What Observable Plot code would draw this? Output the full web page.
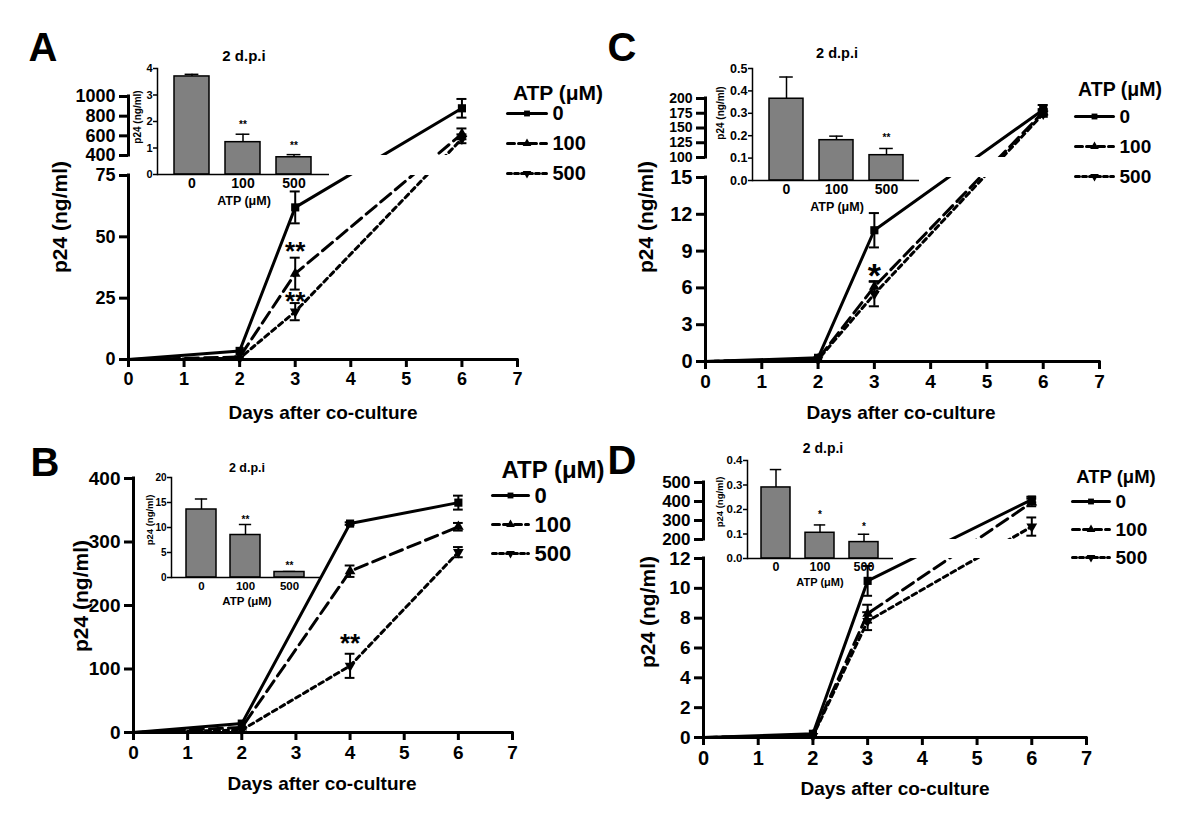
<!DOCTYPE html>
<html><head><meta charset="utf-8">
<script src="https://cdn.jsdelivr.net/npm/d3@7"></script>
<script src="https://cdn.jsdelivr.net/npm/@observablehq/plot@0.6"></script>
<style>
body{margin:0;background:#fff;}
#fig{position:relative;width:1200px;height:819px;overflow:hidden;background:#fff;font-family:'Liberation Sans',Arial,Helvetica,sans-serif;}
#fig svg{position:absolute;left:0;top:0;}
.t{position:absolute;white-space:nowrap;line-height:1;font-weight:bold;color:#000;}
</style></head><body><div id="fig"></div>
<script>
// ---------------- data ----------------
const doses = ["0", "100", "500"];
const xTicks = [0, 1, 2, 3, 4, 5, 6, 7];

// Panel A
const daysA = [0, 2, 3, 6];
const A_0 = [0, 3.5, 62, 880];      const A_0_err = [0, 0, 6.5, 95];
const A_100 = [0, 1.0, 35, 620];    const A_100_err = [0, 0, 6.5, 55];
const A_500 = [0, 0.5, 19.5, 570];  const A_500_err = [0, 0, 3.5, 45];
const A_yDomain = [0, 75, 400, 1000];
const A_yTicksLow = [0, 25, 50, 75];
const A_yTicksHigh = [400, 600, 800, 1000];
const A_stars = [{day: 3, y: 46.5, t: "**"}, {day: 3, y: 26, t: "**"}];
const A_inset = [3.7, 1.22, 0.65];  const A_inset_err = [0.08, 0.30, 0.10];
const A_inset_starY = [null, 1.96, 1.17]; const A_inset_star = ["", "**", "**"];
const A_inset_ticks = [0, 1, 2, 3, 4];

// Panel B
const daysB = [0, 2, 4, 6];
const B_0 = [0, 14, 329, 362];      const B_0_err = [0, 0, 2, 11];
const B_100 = [0, 8, 254, 324];     const B_100_err = [0, 0, 9, 6];
const B_500 = [0, 4, 105, 284];     const B_500_err = [0, 0, 19, 8];
const B_yDomain = [0, 400];
const B_yTicks = [0, 100, 200, 300, 400];
const B_stars = [{day: 4, y: 150, t: "**"}];
const B_inset = [13.6, 8.5, 1.1];   const B_inset_err = [2.1, 2.1, 0.1];
const B_inset_starY = [null, 12, 2.8]; const B_inset_star = ["", "**", "**"];
const B_inset_ticks = [0, 5, 10, 15, 20];

// Panel C
const daysC = [0, 2, 3, 6];
const C_0 = [0, 0.3, 10.7, 181];    const C_0_err = [0, 0, 1.4, 8];
const C_100 = [0, 0.2, 6.1, 177];   const C_100_err = [0, 0, 0.45, 5];
const C_500 = [0, 0.15, 5.5, 174];  const C_500_err = [0, 0, 1.0, 5];
const C_yDomain = [0, 15, 100, 200];
const C_yTicksLow = [0, 3, 6, 9, 12, 15];
const C_yTicksHigh = [100, 125, 150, 175, 200];
const C_stars = [{day: 3, y: 7.6, t: "*"}];
const C_inset = [0.365, 0.18, 0.113]; const C_inset_err = [0.097, 0.018, 0.03];
const C_inset_starY = [null, null, 0.2]; const C_inset_star = ["", "", "**"];
const C_inset_ticks = [0, 0.1, 0.2, 0.3, 0.4, 0.5];

// Panel D
const daysD = [0, 2, 3, 6];
const D_0 = [0, 0.25, 10.5, 410];   const D_0_err = [0, 0, 1.0, 15];
const D_100 = [0, 0.15, 8.3, 395];  const D_100_err = [0, 0, 0.6, 20];
const D_500 = [0, 0.1, 7.8, 268];   const D_500_err = [0, 0, 0.6, 48];
const D_yDomain = [0, 12, 200, 500];
const D_yTicksLow = [0, 2, 4, 6, 8, 10, 12];
const D_yTicksHigh = [200, 300, 400, 500];
const D_stars = [];
const D_inset = [0.29, 0.105, 0.067]; const D_inset_err = [0.073, 0.032, 0.032];
const D_inset_starY = [null, 0.19, 0.14]; const D_inset_star = ["", "*", "*"];
const D_inset_ticks = [0, 0.1, 0.2, 0.3, 0.4];

// ---------------- drawing ----------------
const FONT = "'Liberation Sans', Arial, Helvetica, sans-serif";
const STYLE = {fontFamily: FONT, background: "transparent", overflow: "visible"};
const fig = document.getElementById("fig");
const W = 1200, H = 819;
const dash = {"0": undefined, "100": "13,6", "500": "5,4"};
const legendDash = {"0": undefined, "100": "7,4", "500": "4,3"};
const S3 = Math.sqrt(3);
const triDown = {draw(ctx, size) {
  const y = -Math.sqrt(size / (S3 * 3));
  ctx.moveTo(0, -y * 2); ctx.lineTo(-S3 * y, y); ctx.lineTo(S3 * y, y); ctx.closePath();
}};
const sym = {"0": "square", "100": "triangle", "500": triDown};
const symR = {"0": 4.6, "100": 4.0, "500": 4.0};
const legR = {"0": 3.3, "100": 3.2, "500": 3.2};

function put(svg) { fig.appendChild(svg); }
function txt(s, x, y, size, opts = {}) {
  const d = document.createElement("div");
  d.className = "t"; d.textContent = s;
  d.style.left = x + "px"; d.style.top = y + "px"; d.style.fontSize = size + "px";
  if (opts.weight) d.style.fontWeight = opts.weight;
  d.style.transform = "translate(-50%,-50%)" + (opts.rot ? " rotate(-90deg)" : "");
  fig.appendChild(d);
}

function mainPanel(p) {
  const marks = [];
  const lo = p.yr[0], top = p.yr[p.yr.length - 1];
  p.series.forEach((vals, k) => {
    const key = doses[k];
    const rows = p.days.map((d, i) => ({day: d, v: vals[i], e: p.errs[k][i]}));
    marks.push(Plot.line(rows, {x: "day", y: "v", stroke: "#000", strokeWidth: 3, strokeDasharray: dash[key]}));
    const eb = rows.filter(r => r.e > 0);
    marks.push(Plot.ruleX(eb, {x: "day", y1: r => r.v - r.e, y2: r => r.v + r.e, strokeWidth: 2}));
    marks.push(Plot.ruleY(eb, {x1: r => r.day - 0.09, x2: r => r.day + 0.09, y: r => r.v + r.e, strokeWidth: 2}));
    marks.push(Plot.ruleY(eb, {x1: r => r.day - 0.09, x2: r => r.day + 0.09, y: r => r.v - r.e, strokeWidth: 2}));
    marks.push(Plot.dot(rows.filter(r => r.day > 0), {x: "day", y: "v", symbol: sym[key], r: symR[key], fill: "#000"}));
  });
  if (p.yd.length === 4) {
    marks.push(Plot.rect([{x1: 0, x2: 7, y1: p.yd[1], y2: p.yd[2]}], {x1: "x1", x2: "x2", y1: "y1", y2: "y2", fill: "#fff"}));
    marks.push(Plot.ruleX([{a: p.yd[0], b: p.yd[1]}, {a: p.yd[2], b: p.yd[3]}], {x: 0, y1: "a", y2: "b", strokeWidth: 3, strokeLinecap: "square"}));
  } else {
    marks.push(Plot.ruleX([{a: p.yd[0], b: p.yd[1]}], {x: 0, y1: "a", y2: "b", strokeWidth: 3, strokeLinecap: "square"}));
  }
  marks.push(Plot.ruleY([0], {strokeWidth: 3, strokeLinecap: "square"}));
  marks.push(Plot.text(p.stars, {x: "day", y: "y", text: "t", fontSize: p.starFs, fontWeight: "bold", dy: 0.245 * p.starFs}));
  marks.push(Plot.axisX({ticks: xTicks, tickSize: 8, tickPadding: 5, strokeWidth: 3, fontSize: p.xfs, fontWeight: "bold", label: null, tickFormat: d => String(d)}));
  p.yTickSets.forEach(([ticks, fs]) => {
    marks.push(Plot.axisY({ticks, tickSize: 9, tickPadding: 4, strokeWidth: 3, fontSize: fs, fontWeight: "bold", label: null, tickFormat: d => String(d)}));
  });
  put(Plot.plot({
    width: W, height: H,
    marginLeft: p.xr[0], marginRight: W - p.xr[1], marginTop: top, marginBottom: H - lo,
    x: {domain: [0, 7]},
    y: {type: "linear", domain: p.yd, range: p.yr},
    style: STYLE, marks
  }));
}

function insetPanel(p) {
  const rows = doses.map((k, i) => ({k, v: p.vals[i], e: p.errs[i], sy: p.starY[i], s: p.star[i]}));
  const bw = (p.xr[1] - p.xr[0]) / (3 - p.pi + 2 * p.po) * (1 - p.pi);
  const capIn = (bw - p.cap) / 2;
  put(Plot.plot({
    width: W, height: H,
    marginLeft: p.xr[0], marginRight: W - p.xr[1], marginTop: p.yr[1], marginBottom: H - p.yr[0],
    x: {type: "band", domain: doses, paddingInner: p.pi, paddingOuter: p.po},
    y: {domain: p.yd},
    style: STYLE,
    marks: [
      Plot.ruleX(rows, {x: "k", y1: "v", y2: r => r.v + r.e, strokeWidth: 1.5}),
      Plot.tickY(rows, {x: "k", y: r => r.v + r.e, strokeWidth: 1.5, insetLeft: capIn, insetRight: capIn}),
      Plot.barY(rows, {x: "k", y: "v", fill: "#808080", stroke: "#000", strokeWidth: 1.5}),
      Plot.text(rows.filter(r => r.s), {x: "k", y: "sy", text: "s", fontSize: 10, fontWeight: "bold", dy: 2.4}),
      Plot.frame({anchor: "left", strokeWidth: 1.5}),
      Plot.ruleY([0], {strokeWidth: 1.5}),
      Plot.axisY({ticks: p.ticks, tickSize: 4, tickPadding: 1, strokeWidth: 1.5, fontSize: p.fs, fontWeight: "bold", label: null, tickFormat: p.fmt}),
      Plot.axisX({tickSize: 0, tickPadding: 4, fontSize: p.xfs, fontWeight: "bold", label: null})
    ]
  }));
}

function legendPanel(p) {
  const marks = [];
  doses.forEach(key => {
    marks.push(Plot.line([{x: 0, k: key}, {x: 1, k: key}], {x: "x", y: "k", stroke: "#000", strokeWidth: 3, strokeDasharray: legendDash[key]}));
    marks.push(Plot.dot([{x: 0.5, k: key}], {x: "x", y: "k", symbol: sym[key], r: legR[key], fill: "#000"}));
  });
  marks.push(Plot.text(doses, {x: () => 1, y: d => d, text: d => d, dx: 6, textAnchor: "start", fontSize: p.fs, fontWeight: "bold"}));
  put(Plot.plot({
    width: W, height: H,
    x: {domain: [0, 1], range: p.xr, axis: null},
    y: {type: "point", domain: doses, range: p.yr, padding: 0, axis: null},
    style: STYLE, marks
  }));
}

// ---- Panel A ----
mainPanel({days: daysA, series: [A_0, A_100, A_500], errs: [A_0_err, A_100_err, A_500_err],
  xr: [128, 517], yd: A_yDomain, yr: [359, 175, 155, 96], stars: A_stars, starFs: 26, xfs: 18,
  yTickSets: [[A_yTicksLow, 18], [A_yTicksHigh, 18]]});
insetPanel({vals: A_inset, errs: A_inset_err, starY: A_inset_starY, star: A_inset_star, ticks: A_inset_ticks,
  xr: [157, 329], yr: [174, 68], yd: [0, 4], pi: 0.31, po: 0.34, cap: 14, fs: 11, xfs: 14, fmt: d => String(d)});
legendPanel({xr: [507, 546], yr: [113, 173], fs: 20});

// ---- Panel B ----
mainPanel({days: daysB, series: [B_0, B_100, B_500], errs: [B_0_err, B_100_err, B_500_err],
  xr: [133, 512], yd: B_yDomain, yr: [732, 478], stars: B_stars, starFs: 26, xfs: 19,
  yTickSets: [[B_yTicks, 19]]});
insetPanel({vals: B_inset, errs: B_inset_err, starY: B_inset_starY, star: B_inset_star, ticks: B_inset_ticks,
  xr: [171, 320], yr: [577, 477], yd: [0, 20], pi: 0.31, po: 0.33, cap: 13, fs: 10, xfs: 11.5, fmt: d => String(d)});
legendPanel({xr: [492, 528], yr: [495, 553], fs: 22});

// ---- Panel C ----
mainPanel({days: daysC, series: [C_0, C_100, C_500], errs: [C_0_err, C_100_err, C_500_err],
  xr: [705, 1099], yd: C_yDomain, yr: [361, 177, 157, 98], stars: C_stars, starFs: 34, xfs: 19,
  yTickSets: [[C_yTicksLow, 20], [C_yTicksHigh, 14]]});
insetPanel({vals: C_inset, errs: C_inset_err, starY: C_inset_starY, star: C_inset_star, ticks: C_inset_ticks,
  xr: [752, 919], yr: [180, 68], yd: [0, 0.5], pi: 0.32, po: 0.31, cap: 14, fs: 12.5, xfs: 14, fmt: d => d.toFixed(1)});
legendPanel({xr: [1075, 1113], yr: [115, 176], fs: 19});

// ---- Panel D ----
mainPanel({days: daysD, series: [D_0, D_100, D_500], errs: [D_0_err, D_100_err, D_500_err],
  xr: [703, 1086], yd: D_yDomain, yr: [737, 558, 539, 482], stars: D_stars, starFs: 26, xfs: 20,
  yTickSets: [[D_yTicksLow, 19], [D_yTicksHigh, 17]]});
insetPanel({vals: D_inset, errs: D_inset_err, starY: D_inset_starY, star: D_inset_star, ticks: D_inset_ticks,
  xr: [747, 893], yr: [558, 460], yd: [0, 0.4], pi: 0.33, po: 0.32, cap: 12, fs: 11.5, xfs: 12.5, fmt: d => d.toFixed(1)});
legendPanel({xr: [1072, 1109], yr: [500, 557], fs: 19});

// ---- text labels ----
txt("A", 43, 47, 40); txt("B", 45, 462, 40); txt("C", 622, 47, 40); txt("D", 622, 460, 40);
txt("p24 (ng/ml)", 59, 217, 21, {rot: true});
txt("p24 (ng/ml)", 80, 596, 21, {rot: true});
txt("p24 (ng/ml)", 645, 217, 21, {rot: true});
txt("p24 (ng/ml)", 647, 612, 21, {rot: true});
txt("Days after co-culture", 323, 412, 19);
txt("Days after co-culture", 322, 783, 19);
txt("Days after co-culture", 901, 412, 19);
txt("Days after co-culture", 895, 788, 19);
txt("ATP (μM)", 558, 92, 21);
txt("ATP (μM)", 553, 470, 24);
txt("ATP (μM)", 1120, 90, 19.5);
txt("ATP (μM)", 1116, 477, 18.5);
// insets
txt("2 d.p.i", 244, 55, 15); txt("ATP (μM)", 244, 201, 12.5); txt("p24 (ng/ml)", 138, 117, 10, {rot: true});
txt("2 d.p.i", 247, 468, 12.5); txt("ATP (μM)", 247, 602, 11.5); txt("p24 (ng/ml)", 150, 520, 9.5, {rot: true});
txt("2 d.p.i", 837, 53, 14.5); txt("ATP (μM)", 837, 207, 12.5); txt("p24 (ng/ml)", 721, 113, 10, {rot: true});
txt("2 d.p.i", 823, 448, 14); txt("ATP (μM)", 820, 582, 11); txt("p24 (ng/ml)", 720, 502, 9.5, {rot: true});
</script></body></html>
